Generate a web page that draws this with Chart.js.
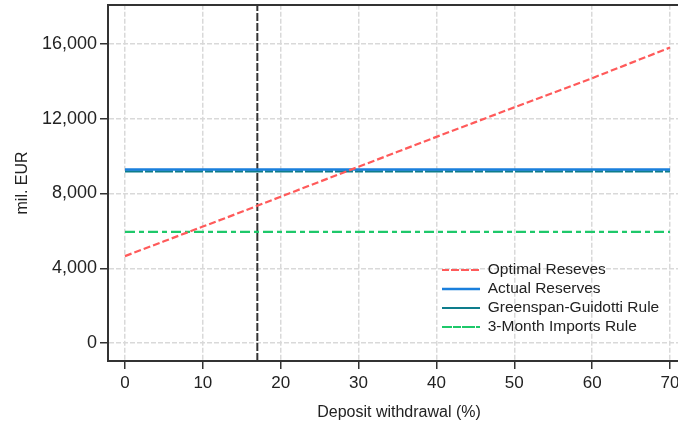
<!DOCTYPE html>
<html>
<head>
<meta charset="utf-8">
<title>Reserves vs deposit withdrawal</title>
<script src="https://cdn.jsdelivr.net/npm/chart.js@4.4.0/dist/chart.umd.min.js"></script>
<style>
  html, body { margin: 0; padding: 0; background: #fff; overflow: hidden; }
  #wrap { position: relative; width: 700px; height: 433px; overflow: hidden; }
  #reserveChart { position: absolute; left: 0; top: -9px; }
</style>
</head>
<body>
<div id="wrap"><canvas id="reserveChart" width="700" height="442"></canvas></div>
<script>
// deposit withdrawal scenarios (%)
const withdrawal = [0, 5, 10, 15, 20, 25, 30, 35, 40, 45, 50, 55, 60, 65, 70];

// reserve levels in mil. EUR, one value per scenario
const optimalReserves = [4650, 5440, 6230, 7020, 7830, 8630, 9430, 10230, 11030, 11820, 12610, 13390, 14170, 14990, 15810];
const actualReserves = [9290, 9290, 9290, 9290, 9290, 9290, 9290, 9290, 9290, 9290, 9290, 9290, 9290, 9290, 9290];
const greenspanGuidotti = [9180, 9180, 9180, 9180, 9180, 9180, 9180, 9180, 9180, 9180, 9180, 9180, 9180, 9180, 9180];
const importsRule = [5950, 5950, 5950, 5950, 5950, 5950, 5950, 5950, 5950, 5950, 5950, 5950, 5950, 5950, 5950];

// marked scenario
const cutoff = 17;

const xTicks = [0, 10, 20, 30, 40, 50, 60, 70];
const yTicks = [0, 4000, 8000, 12000, 16000];

// axis ranges
const xMin = -2.18, xMax = 72.57;
const yMin = -963, yMax = 18098;

const fontFamily = "'Liberation Sans', Arial, sans-serif";
const ink = '#222';

const toPoints = (vals) => withdrawal.map((x, i) => ({ x: x, y: vals[i] }));

const gridStyle = {
    color: '#d9d9d9',
    lineWidth: 1.5,
    tickColor: '#333',
    tickWidth: 1.5,
    tickBorderDash: [],
    tickLength: 8
};
const borderStyle = { display: true, color: '#333', width: 2, dash: [5, 2] };

// put the legend inside the plot, lower right
const legendPlacer = {
    id: 'legendPlacer',
    afterLayout(chart) {
        const lg = chart.legend;
        const w = lg.width, h = lg.height;
        lg.left = 438.5;
        lg.top = 267.75;
        lg.right = lg.left + w;
        lg.bottom = lg.top + h;
    }
};

const ctx = document.getElementById('reserveChart').getContext('2d');
new Chart(ctx, {
    type: 'line',
    data: {
        datasets: [
            {
                label: 'Optimal Reseves',
                data: toPoints(optimalReserves),
                borderColor: '#ff5a5a',
                backgroundColor: 'rgba(0,0,0,0)',
                borderWidth: 2.2,
                borderDash: [7, 3]
            },
            {
                label: 'Actual Reserves',
                data: toPoints(actualReserves),
                borderColor: '#1a7fdc',
                backgroundColor: 'rgba(0,0,0,0)',
                borderWidth: 2.5
            },
            {
                label: 'Greenspan-Guidotti Rule',
                data: toPoints(greenspanGuidotti),
                borderColor: '#0e7d8c',
                backgroundColor: 'rgba(0,0,0,0)',
                borderWidth: 2.2,
                borderDash: [18, 2, 8, 2]
            },
            {
                label: '3-Month Imports Rule',
                data: toPoints(importsRule),
                borderColor: '#1ec86a',
                backgroundColor: 'rgba(0,0,0,0)',
                borderWidth: 2.2,
                borderDash: [10, 4, 5, 4]
            },
            {
                label: 'cutoff',
                data: [{ x: cutoff, y: yMin }, { x: cutoff, y: yMax }],
                borderColor: '#333',
                backgroundColor: 'rgba(0,0,0,0)',
                borderWidth: 2,
                borderDash: [8, 2]
            }
        ]
    },
    options: {
        responsive: false,
        animation: false,
        layout: { padding: { left: 0, right: 10, top: 0, bottom: 0 } },
        elements: {
            point: { radius: 0, hoverRadius: 0 },
            line: { tension: 0, fill: false }
        },
        scales: {
            x: {
                type: 'linear',
                min: xMin,
                max: xMax,
                afterBuildTicks: (s) => { s.ticks = xTicks.map(v => ({ value: v })); },
                afterFit: (s) => { s.height = 72; },
                ticks: { font: { family: fontFamily, size: 17 }, color: ink, padding: 4, maxRotation: 0, autoSkip: false },
                grid: gridStyle,
                border: borderStyle,
                title: {
                    display: true,
                    text: 'Deposit withdrawal (%)',
                    font: { family: fontFamily, size: 16 },
                    color: ink,
                    padding: { top: 0, bottom: 10.5 }
                }
            },
            xTop: {
                type: 'linear',
                position: 'top',
                display: true,
                min: xMin,
                max: xMax,
                afterFit: (s) => { s.height = 0; },
                ticks: { display: false },
                grid: { display: false, drawTicks: false },
                border: { display: true, color: '#333', width: 2 }
            },
            y: {
                min: yMin,
                max: yMax,
                afterBuildTicks: (s) => { s.ticks = yTicks.map(v => ({ value: v })); },
                afterFit: (s) => { s.width = 108; },
                ticks: {
                    font: { family: fontFamily, size: 18 },
                    color: ink,
                    padding: 3,
                    callback: (v) => v.toLocaleString('en-US')
                },
                grid: gridStyle,
                border: borderStyle,
                title: {
                    display: true,
                    text: 'mil. EUR',
                    font: { family: fontFamily, size: 16 },
                    color: ink,
                    padding: { top: 12.5, bottom: 0 }
                }
            }
        },
        plugins: {
            legend: {
                position: 'chartArea',
                align: 'start',
                labels: {
                    font: { family: fontFamily, size: 15.5 },
                    color: ink,
                    boxWidth: 38,
                    boxHeight: 0,
                    padding: 3.5,
                    filter: (item) => item.datasetIndex < 4
                }
            },
            tooltip: { enabled: false }
        }
    },
    plugins: [legendPlacer]
});
</script>
</body>
</html>
